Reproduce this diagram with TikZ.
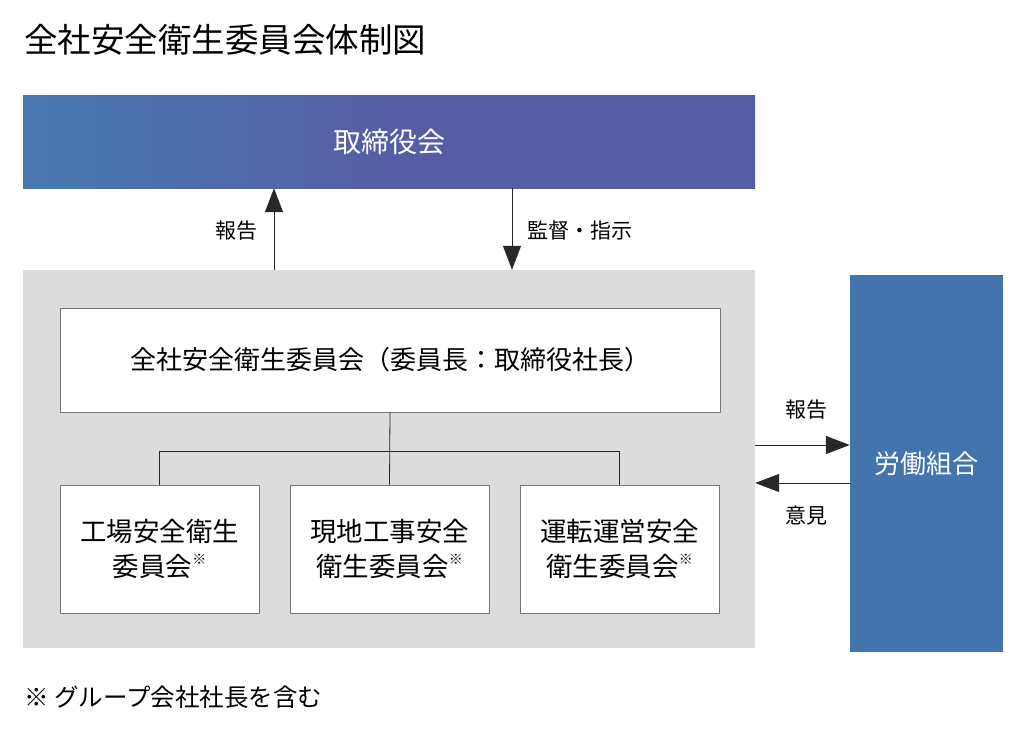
\documentclass[tikz,border=0pt]{standalone}
\usepackage{fontspec}
\setmainfont{Noto Sans CJK JP}
\usetikzlibrary{arrows.meta}
\definecolor{gradL}{RGB}{72,122,176}
\definecolor{gradR}{RGB}{85,94,164}
\definecolor{unionblue}{RGB}{66,116,174}
\definecolor{panelgrey}{RGB}{220,220,220}
\definecolor{edgegrey}{RGB}{120,120,120}
\definecolor{linedark}{RGB}{40,40,40}
\newcommand{\kome}{\raisebox{0.45em}{\fontsize{14}{14}\selectfont ※}}
\tikzset{
  whitebox/.style={draw=edgegrey, line width=1pt, fill=white, inner sep=0pt, align=center,
    font=\fontsize{26.5}{35}\selectfont},
  arr/.style={draw=linedark, line width=1pt, -{Triangle[length=24pt,width=18pt]}},
  conn/.style={draw=linedark, line width=0.8pt},
  lab/.style={font=\fontsize{21}{24}\selectfont, inner sep=0pt},
}
\begin{document}
\begin{tikzpicture}[x=1pt,y=-1pt]
\useasboundingbox (0,0) rectangle (1028,736);
% title
\node[anchor=west, inner sep=0pt, font=\fontsize{33.5}{36}\selectfont] (title) at (24,40) {全社安全衛生委員会体制図};
% board
\node[minimum width=732pt, minimum height=93pt, inner sep=0pt, left color=gradL, right color=gradR, middle color=gradR,
  text=white, font=\fontsize{28}{32}\selectfont] (board) at (389,141.5) {取締役会};
% grey panel
\node[fill=panelgrey, minimum width=732pt, minimum height=378pt, inner sep=0pt] (panel) at (389,459) {};
% main committee
\node[whitebox, minimum width=660pt, minimum height=104pt, font=\fontsize{26}{30}\selectfont] (main) at (390,360) {全社安全衛生委員会（委員長：取締役社長）};
% sub committees
\node[whitebox, minimum width=199pt, minimum height=128pt] (s1) at (159.5,549) {工場安全衛生\\委員会\kome};
\node[whitebox, minimum width=199pt, minimum height=128pt] (s2) at (389.5,549) {現地工事安全\\衛生委員会\kome};
\node[whitebox, minimum width=199pt, minimum height=128pt] (s3) at (619.5,549) {運転運営安全\\衛生委員会\kome};
% union
\node[fill=unionblue, minimum width=153pt, minimum height=377pt, inner sep=0pt, text=white,
  font=\fontsize{26}{30}\selectfont] (union) at (926.5,463.5) {労働組合};
% tree
\draw[conn] (main.south) -- (s2.north);
\draw[conn] (s1.north) -- ++(0,-33) -| (s3.north);
% vertical arrows
\coordinate (upx) at (274,0);
\coordinate (downx) at (512,0);
\draw[arr] (panel.north -| upx) -- (board.south -| upx);
\draw[arr] (board.south -| downx) -- (panel.north -| downx);
\node[lab] (lreport) at (236,231) {報告};
\node[lab] (ldirect) at (580,231) {監督・指示};
% horizontal arrows
\coordinate (ry) at (0,445);
\coordinate (ly) at (0,483);
\draw[arr] (panel.east |- ry) -- (union.west |- ry);
\draw[arr] (union.west |- ly) -- (panel.east |- ly);
\node[lab] (rreport) at (806,410) {報告};
\node[lab] (ropinion) at (806,516) {意見};
% footnote
\node[anchor=west, inner sep=0pt, font=\fontsize{24.5}{28}\selectfont] (foot) at (24,697) {※ グループ会社社長を含む};
\end{tikzpicture}
\end{document}
